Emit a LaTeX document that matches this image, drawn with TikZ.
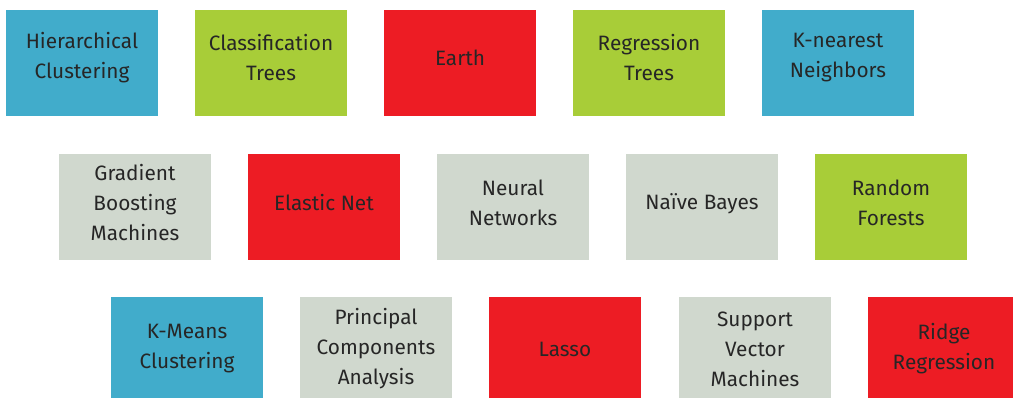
\documentclass[tikz,border=0pt]{standalone}
\usepackage{fontspec}
\setmainfont{Fira Sans}
\definecolor{cblue}{HTML}{41ACCB}
\definecolor{cgreen}{HTML}{A8CD38}
\definecolor{cred}{HTML}{ED1C24}
\definecolor{cgrey}{HTML}{D0D8CE}
\definecolor{ctext}{HTML}{262626}
\tikzset{
  box/.style={minimum width=152pt, minimum height=106pt, inner sep=0pt, outer sep=0pt},
  txt/.style={text=ctext, align=center, inner sep=0pt, font=\fontsize{20.8}{30}\selectfont},
  blue/.style={box, fill=cblue},
  green/.style={box, fill=cgreen},
  red/.style={box, fill=cred},
  grey/.style={box, fill=cgrey},
}
\begin{document}
\begin{tikzpicture}[x=1pt,y=-1pt]
\useasboundingbox (0,0) rectangle (1013,397);
\clip (0,0) rectangle (1013,397);
% row 1
\node[blue]  (b11) at (82,63) {};
\node[green] (b12) at (271,63) {};
\node[red]   (b13) at (460,63) {};
\node[green] (b14) at (649,63) {};
\node[blue]  (b15) at (838,63) {};
% row 2
\node[grey]  (b21) at (135,207) {};
\node[red]   (b22) at (324,207) {};
\node[grey]  (b23) at (513,207) {};
\node[grey]  (b24) at (702,207) {};
\node[green] (b25) at (891,207) {};
% row 3
\node[blue]  (b31) at (187,350) {};
\node[grey]  (b32) at (376,350) {};
\node[red]   (b33) at (565,350) {};
\node[grey]  (b34) at (755,350) {};
\node[red]   (b35) at (944,350) {};
% texts
\node[txt] (t11) at ([yshift=5]b11.center) {Hierarchical\\Clustering};
\node[txt] (t12) at ([yshift=5]b12.center) {Classification\\Trees};
\node[txt] (t13) at ([yshift=5]b13.center) {Earth};
\node[txt] (t14) at ([yshift=5]b14.center) {Regression\\Trees};
\node[txt] (t15) at ([yshift=5]b15.center) {K-nearest\\Neighbors};
\node[txt] (t21) at ([yshift=4]b21.center) {Gradient\\Boosting\\Machines};
\node[txt] (t22) at ([yshift=4]b22.center) {Elastic Net};
\node[txt] (t23) at ([yshift=4]b23.center) {Neural\\Networks};
\node[txt] (t24) at ([yshift=3]b24.center) {Naïve Bayes};
\node[txt] (t25) at ([yshift=4]b25.center) {Random\\Forests};
\node[txt] (t31) at ([yshift=1]b31.center) {K-Means\\Clustering};
\node[txt] (t32) at ([yshift=1]b32.center) {Principal\\Components\\Analysis};
\node[txt] (t33) at ([yshift=1]b33.center) {Lasso};
\node[txt] (t34) at ([yshift=1]b34.center) {Support\\Vector\\Machines};
\node[txt] (t35) at ([yshift=1]b35.center) {Ridge\\Regression};
\end{tikzpicture}
\end{document}
